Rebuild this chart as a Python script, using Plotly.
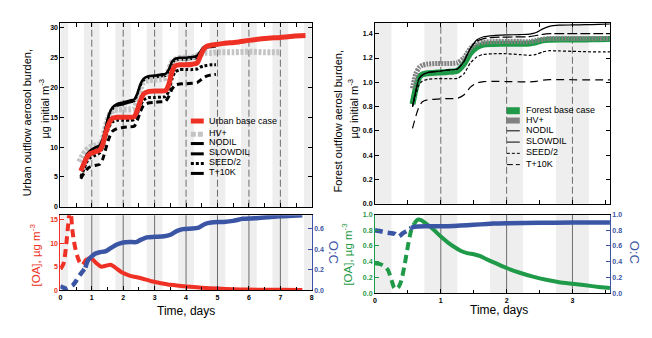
import plotly.graph_objects as go

W, H = 652, 338
FONT = "Liberation Sans, Arial, Helvetica, sans-serif"

# ---------------- urban outflow: aerosol burden (µg initial m^-3) ----------------
urb_t = [0.65, 0.75, 0.85, 0.95, 1.1, 1.25, 1.35, 1.45, 1.55, 1.65, 1.8, 2.0, 2.2,
         2.35, 2.45, 2.55, 2.65, 2.8, 3.0, 3.2, 3.35, 3.45, 3.55, 3.65, 3.8, 4.0,
         4.2, 4.35, 4.45, 4.55, 4.65, 4.8, 4.95]
urb_base_t = urb_t + [5.2, 5.6, 6.0, 6.5, 7.0, 7.4, 7.8]
urb_base = [6.0, 7.2, 8.3, 8.9, 9.2, 9.5, 10.5, 12.5, 14.0, 14.8, 15.0, 15.0, 15.0,
            15.1, 16.2, 17.8, 18.9, 19.3, 19.4, 19.4, 19.5, 20.5, 22.6, 23.6, 23.8, 23.8,
            23.9, 24.1, 25.2, 26.3, 26.9, 27.1, 27.2,
            27.4, 27.6, 27.9, 28.2, 28.4, 28.6, 28.7]
urb_hv_t = [0.6, 0.7, 0.8, 0.9, 1.0, 1.15, 1.3, 1.4, 1.5, 1.6, 1.7, 1.85, 2.0, 2.2,
            2.35, 2.45, 2.55, 2.65, 2.8, 3.0, 3.2, 3.35, 3.45, 3.55, 3.7, 3.9, 4.1,
            4.3, 4.45, 4.6, 4.8, 5.0, 5.5, 6.0, 6.5, 7.0]
urb_hv = [7.5, 8.5, 9.3, 9.8, 10.1, 10.3, 10.6, 12.5, 14.5, 15.7, 16.2, 16.3, 16.3, 16.3,
          16.5, 18.0, 19.8, 20.8, 21.2, 21.3, 21.4, 21.6, 22.8, 24.2, 24.8, 25.0, 25.0,
          25.2, 25.6, 25.8, 25.8, 25.9, 25.9, 26.0, 25.9, 25.9]
urb_nodil = [6.2, 7.5, 8.8, 9.4, 9.9, 10.3, 11.4, 13.5, 15.5, 16.6, 17.2, 17.5, 17.8,
             18.0, 19.0, 20.6, 21.5, 21.9, 22.0, 22.2, 22.3, 23.0, 24.3, 24.8, 25.0, 25.0,
             25.1, 25.3, 26.0, 26.7, 27.0, 27.1, 27.2]
urb_slowdil = [6.1, 7.4, 8.6, 9.2, 9.7, 10.1, 11.1, 13.2, 15.2, 16.3, 16.9, 17.2, 17.5,
               17.7, 18.7, 20.3, 21.2, 21.6, 21.7, 21.9, 22.0, 22.7, 24.0, 24.5, 24.7, 24.7,
               24.8, 25.0, 25.7, 26.4, 26.7, 26.8, 26.9]
urb_seed2 = [5.0, 6.3, 7.6, 8.2, 8.6, 9.0, 10.0, 11.8, 13.4, 14.2, 14.5, 14.5, 14.5,
             14.6, 15.6, 17.0, 17.9, 18.3, 18.3, 18.4, 18.5, 19.4, 21.4, 22.6, 23.0, 23.0,
             23.0, 23.1, 23.4, 23.6, 23.7, 23.8, 23.8]
urb_t10k = [4.7, 5.6, 6.3, 6.7, 6.9, 7.1, 8.0, 9.8, 11.5, 12.6, 13.1, 13.3, 13.4,
            13.5, 14.5, 16.0, 17.0, 17.4, 17.5, 17.6, 17.7, 18.5, 19.7, 20.4, 20.6, 20.6,
            20.7, 20.8, 21.2, 21.6, 21.9, 22.1, 22.2]

# ---------------- urban outflow: [OA] and O:C ----------------
urb_oa_early_t = [0.0, 0.05, 0.1, 0.15, 0.2, 0.25, 0.3, 0.33, 0.38, 0.43, 0.48, 0.55,
                  0.61, 0.7, 0.8, 0.85]
urb_oa_early = [4.5, 5.0, 5.6, 7.5, 10.5, 14.0, 16.8, 16.5, 12.9, 10.5, 8.8, 7.0,
                6.0, 5.3, 6.3, 6.6]
urb_oa_t = [0.85, 0.95, 1.05, 1.15, 1.3, 1.45, 1.6, 1.75, 1.95, 2.2, 2.4, 2.6, 2.9,
            3.2, 3.5, 4.0, 4.5, 5.0, 5.5, 6.0, 6.5, 7.0, 7.7]
urb_oa = [6.6, 6.8, 6.4, 5.7, 5.0, 5.2, 5.4, 4.8, 3.8, 3.1, 2.8, 2.5, 1.9,
          1.5, 1.15, 0.8, 0.55, 0.35, 0.22, 0.15, 0.1, 0.08, 0.05]
urb_oc_early_t = [0.0, 0.1, 0.2, 0.3, 0.4, 0.5, 0.6, 0.7, 0.8]
urb_oc_early = [0.04, 0.025, 0.015, 0.03, 0.05, 0.09, 0.14, 0.18, 0.22]
urb_oc_t = [0.8, 0.85, 0.9, 1.0, 1.1, 1.25, 1.45, 1.6, 1.8, 2.0, 2.2, 2.4, 2.55, 2.75,
            3.0, 3.3, 3.5, 3.7, 3.9, 4.2, 4.4, 4.6, 4.8, 5.2, 5.5, 5.8, 6.2, 6.6, 7.0,
            7.4, 7.7]
urb_oc = [0.22, 0.27, 0.30, 0.33, 0.355, 0.37, 0.38, 0.41, 0.445, 0.465, 0.47, 0.468,
          0.49, 0.515, 0.52, 0.525, 0.54, 0.575, 0.595, 0.60, 0.61, 0.645, 0.66, 0.665,
          0.675, 0.695, 0.70, 0.71, 0.72, 0.725, 0.73]

# ---------------- forest outflow: aerosol burden ----------------
for_t = [0.57, 0.62, 0.67, 0.72, 0.8, 0.95, 1.1, 1.25, 1.35, 1.45, 1.55, 1.65, 1.8,
         2.0, 2.2, 2.35, 2.45, 2.55, 2.65, 2.8, 3.0, 3.2, 3.4, 3.57]
for_base = [0.82, 0.95, 1.04, 1.065, 1.075, 1.08, 1.085, 1.095, 1.15, 1.24, 1.29, 1.31,
            1.315, 1.318, 1.318, 1.32, 1.33, 1.345, 1.35, 1.352, 1.352, 1.353, 1.355, 1.356]
for_hv = [0.95, 1.07, 1.12, 1.14, 1.15, 1.155, 1.155, 1.16, 1.2, 1.28, 1.32, 1.33,
          1.335, 1.335, 1.335, 1.335, 1.345, 1.355, 1.36, 1.36, 1.36, 1.36, 1.36, 1.36]
for_nodil = [0.80, 0.93, 1.03, 1.06, 1.08, 1.09, 1.10, 1.11, 1.17, 1.28, 1.35, 1.375,
             1.385, 1.39, 1.393, 1.397, 1.41, 1.44, 1.46, 1.47, 1.472, 1.474, 1.477, 1.48]
for_slowdil = [0.80, 0.93, 1.03, 1.06, 1.08, 1.09, 1.10, 1.11, 1.17, 1.28, 1.34, 1.36,
               1.37, 1.372, 1.374, 1.376, 1.385, 1.395, 1.40, 1.40, 1.40, 1.40, 1.40, 1.40]
for_seed2 = [0.80, 0.90, 0.98, 1.01, 1.025, 1.03, 1.03, 1.032, 1.07, 1.16, 1.21, 1.23,
             1.235, 1.235, 1.228, 1.222, 1.23, 1.25, 1.26, 1.258, 1.255, 1.252, 1.25, 1.25]
for_t10k = [0.62, 0.72, 0.80, 0.84, 0.855, 0.862, 0.866, 0.868, 0.895, 0.96, 0.995, 1.005,
            1.008, 1.006, 1.004, 1.003, 1.008, 1.018, 1.022, 1.022, 1.021, 1.02, 1.02, 1.02]

# ---------------- forest outflow: [OA] and O:C ----------------
for_oa_early_t = [0.0, 0.08, 0.15, 0.2, 0.25, 0.29, 0.32, 0.36, 0.4, 0.45, 0.5, 0.55, 0.6]
for_oa_early = [0.38, 0.37, 0.34, 0.29, 0.17, 0.07, 0.05, 0.08, 0.16, 0.36, 0.6, 0.8, 0.89]
for_oa_t = [0.6, 0.65, 0.7, 0.8, 0.9, 1.0, 1.1, 1.2, 1.3, 1.4, 1.5, 1.6, 1.7, 1.85,
            2.0, 2.2, 2.4, 2.6, 2.8, 3.0, 3.2, 3.4, 3.57]
for_oa = [0.89, 0.935, 0.93, 0.87, 0.80, 0.72, 0.65, 0.59, 0.54, 0.51, 0.495, 0.47,
          0.43, 0.375, 0.32, 0.26, 0.21, 0.17, 0.14, 0.12, 0.10, 0.08, 0.065]
for_oc_early_t = [0.0, 0.1, 0.18, 0.3, 0.36, 0.42, 0.5, 0.55]
for_oc_early = [0.80, 0.785, 0.77, 0.755, 0.72, 0.76, 0.80, 0.83]
for_oc_t = [0.55, 0.6, 0.8, 1.0, 1.2, 1.4, 1.6, 1.8, 2.0, 2.5, 3.0, 3.57]
for_oc = [0.83, 0.845, 0.85, 0.85, 0.855, 0.865, 0.875, 0.885, 0.89, 0.895, 0.898, 0.90]

# ---------------- night-time shading and day markers ----------------
urb_nights = [(0, 0.25), (0.75, 1.25), (1.75, 2.25), (2.75, 3.25), (3.75, 4.25),
              (4.75, 5.25), (5.75, 6.25), (6.75, 7.25), (7.75, 8.0)]
for_nights = [(0, 0.25), (0.75, 1.25), (1.75, 2.25), (2.75, 3.25)]
urb_days = [1, 2, 3, 4, 5, 6, 7]
for_days = [1, 2, 3]

RED = "#ee3124"
BLUE = "#3b55a5"
GREEN = "#1f9a48"
LGRAY = "#c4c4c4"
DGRAY = "#818181"


def px(x):
    return x / W


def py(y):
    return 1 - y / H


fig = go.Figure()


def add(x, y, xa, ya, color, width, dash="solid"):
    fig.add_trace(go.Scatter(x=x, y=y, xaxis=xa, yaxis=ya, mode="lines",
                             line=dict(color=color, width=width, dash=dash,
                                       shape="spline", smoothing=0.6),
                             showlegend=False, hoverinfo="skip"))


# urban burden
add(urb_t, urb_t10k, "x", "y", "black", 3, "6px,4px")
add(urb_t, urb_seed2, "x", "y", "black", 3, "3px,2px")
add(urb_t, urb_slowdil, "x", "y", "black", 2.5)
add(urb_hv_t, urb_hv, "x", "y", LGRAY, 6, "3px,1.5px")
add(urb_t, urb_nodil, "x", "y", "black", 2.5)
add(urb_base_t, urb_base, "x", "y", RED, 5)

# urban OA / O:C
add(urb_oa_early_t, urb_oa_early, "x2", "y2", RED, 4, "8px,5px")
add(urb_oa_t, urb_oa, "x2", "y2", RED, 4)
add(urb_oc_early_t, urb_oc_early, "x2", "y3", BLUE, 4.5, "8px,5px")
add(urb_oc_t, urb_oc, "x2", "y3", BLUE, 4.5)

# forest burden
add(for_t, for_base, "x3", "y4", GREEN, 6)
add(for_t, for_hv, "x3", "y4", DGRAY, 5, "2px,1px")
add(for_t, for_t10k, "x3", "y4", "black", 1.2, "8px,5px")
add(for_t, for_seed2, "x3", "y4", "black", 1.2, "3px,2px")
add(for_t, for_slowdil, "x3", "y4", "black", 1.2, "10px,3px")
add(for_t, for_nodil, "x3", "y4", "black", 1.2)

# forest OA / O:C
add(for_oc_early_t, for_oc_early, "x4", "y6", BLUE, 4.5, "8px,5px")
add(for_oc_t, for_oc, "x4", "y6", BLUE, 4.5)
add(for_oa_early_t, for_oa_early, "x4", "y5", GREEN, 4, "8px,5px")
add(for_oa_t, for_oa, "x4", "y5", GREEN, 4)

shapes = []


def shade(nights, days, xref, yref, vdash):
    for a, b in nights:
        shapes.append(dict(type="rect", xref=xref, yref=yref + " domain", x0=a, x1=b,
                           y0=0, y1=1, fillcolor="#eeeeee", line=dict(width=0),
                           layer="below"))
    for d in days:
        shapes.append(dict(type="line", xref=xref, yref=yref + " domain", x0=d, x1=d,
                           y0=0, y1=1, line=dict(color="#6e6e6e", width=1, dash=vdash),
                           layer="below"))


shade(urb_nights, urb_days, "x", "y", "7px,3px")
shade(urb_nights, urb_days, "x2", "y2", "solid")
shade(for_nights, for_days, "x3", "y4", "7px,3px")
shade(for_nights, for_days, "x4", "y5", "solid")

annotations = []


def legend(entries, x0, x1, xt):
    for label, y_txt, y_line, color, width, dash in entries:
        shapes.append(dict(type="line", xref="paper", yref="paper", x0=px(x0), x1=px(x1),
                           y0=py(y_line), y1=py(y_line),
                           line=dict(color=color, width=width, dash=dash)))
        annotations.append(dict(text=label, xref="paper", yref="paper", x=px(xt),
                                y=py(y_txt), xanchor="left", yanchor="middle",
                                showarrow=False, font=dict(size=9, color="black",
                                                           family=FONT)))


legend([("Urban base case", 119, 119.5, RED, 5, "solid"),
        ("HV+", 131.5, 133, LGRAY, 5, "5px,2px"),
        ("NODIL", 141, 142.5, "black", 3, "solid"),
        ("SLOWDIL", 151.5, 153, "black", 3, "solid"),
        ("SEED/2", 161.5, 163, "black", 3, "3px,2px"),
        ("T+10K", 172, 173, "black", 3, "solid")], 190, 203, 206.5)
legend([("Forest base case", 108.7, 109, GREEN, 7, "solid"),
        ("HV+", 118.7, 119, DGRAY, 6, "solid"),
        ("NODIL", 128.5, 129.5, "black", 1, "solid"),
        ("SLOWDIL", 140, 141, "black", 1, "solid"),
        ("SEED/2", 151.5, 152.5, "black", 1, "3px,2px"),
        ("T+10K", 163, 164, "black", 1, "6px,3px")], 508, 521, 525)


def label(text, x, y, angle, size, color):
    annotations.append(dict(text=text, xref="paper", yref="paper", x=px(x), y=py(y),
                            xanchor="center", yanchor="middle", textangle=angle,
                            showarrow=False, font=dict(size=size, color=color, family=FONT)))


label("Urban outflow aerosol burden,", 26, 121, -90, 11, "black")
label("µg initial m<sup>-3</sup>", 42, 107, -90, 11, "black")
label("Forest outflow aerosl burden,", 338, 120, -90, 11, "black")
label("µg initial m<sup>-3</sup>", 353, 107, -90, 11, "black")
label("[OA], µg m<sup>-3</sup>", 33, 256, -90, 11.5, RED)
label("[OA], µg m<sup>-3</sup>", 347, 255, -90, 11.5, GREEN)
label("O:C", 333, 254, 90, 13, BLUE)
label("O:C", 636, 253, 90, 13, BLUE)
label("Time, days", 185, 313, 0, 12, "black")
label("Time, days", 500, 312, 0, 12, "black")

xL = [px(58.7), px(311.7)]
xR = [px(375.3), px(611.7)]
yLT = [py(207), py(19.5)]
yLB = [py(292.3), py(215.7)]
yRT = [py(204), py(19.3)]
yRB = [py(295.3), py(215)]

tickfont = dict(size=7, family=FONT, weight="bold", color="black")


def xtop(domain, rng, anchor):
    return dict(domain=domain, range=rng, anchor=anchor, showline=True, linecolor="black",
                linewidth=1, mirror="ticks", ticks="inside", ticklen=4, tickcolor="black",
                tick0=0, dtick=0.5, showticklabels=False, showgrid=False, zeroline=False)


def xbot(domain, rng, anchor):
    return dict(domain=domain, range=rng, anchor=anchor, showline=True, linecolor="black",
                linewidth=1, mirror=True, ticks="inside", ticklen=4, tickcolor="black",
                tick0=0, dtick=1, tickfont=tickfont, showgrid=False, zeroline=False,
                minor=dict(ticks="inside", dtick=0.5, ticklen=3, tickcolor="black"))


def yax(domain, rng, anchor, dtick, color="black", fmt=None, side="left", overlay=None,
        mirror="ticks"):
    d = dict(domain=domain, range=rng, anchor=anchor, showline=True, linecolor=color,
             linewidth=1, mirror=mirror, ticks="inside", ticklen=4, tickcolor=color,
             tick0=0, dtick=dtick, tickfont=dict(tickfont, color=color), showgrid=False,
             zeroline=False, side=side)
    if fmt:
        d["tickformat"] = fmt
    if overlay:
        d["overlaying"] = overlay
        d.pop("domain")
    return d


fig.update_layout(
    width=W, height=H, margin=dict(l=0, r=0, t=0, b=0),
    paper_bgcolor="white", plot_bgcolor="white",
    font=dict(family=FONT),
    xaxis=xtop(xL, [0, 8], "y"),
    yaxis=yax(yLT, [0, 30.8], "x", 5),
    xaxis2=xbot(xL, [0, 8], "y2"),
    yaxis2=yax(yLB, [0, 15.9], "x2", 5, RED, mirror=False),
    yaxis3=yax(None, [0, 0.73], "x2", 0.2, BLUE, ".1f", "right", "y2", mirror=False),
    xaxis3=xtop(xR, [0, 3.57], "y4"),
    yaxis4=yax(yRT, [0, 1.489], "x3", 0.2, fmt=".1f"),
    xaxis4=xbot(xR, [0, 3.57], "y5"),
    yaxis5=yax(yRB, [0, 1.0], "x4", 0.2, GREEN, ".1f", mirror=False),
    yaxis6=yax(None, [0, 1.0], "x4", 0.2, BLUE, ".1f", "right", "y5", mirror=False),
    shapes=shapes,
    annotations=annotations,
)

fig.write_html("out.html")
